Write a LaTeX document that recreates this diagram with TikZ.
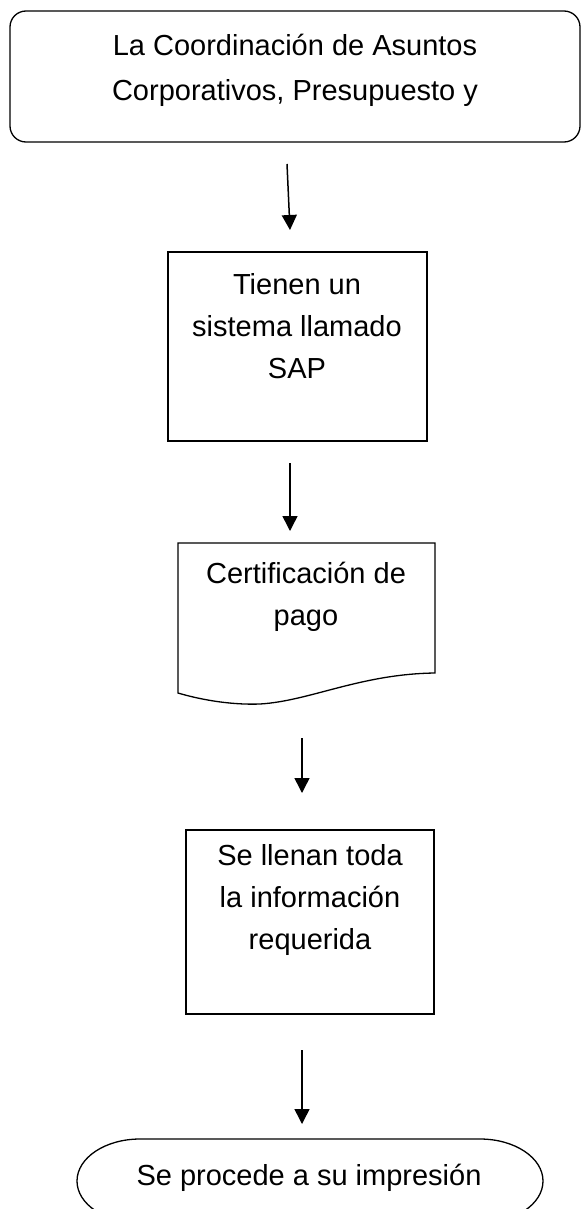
\documentclass[tikz,border=0pt]{standalone}
\usepackage{fontspec}
\setmainfont{Liberation Sans}
\usetikzlibrary{arrows.meta}
\begin{document}
\begin{tikzpicture}[x=1pt,y=-1pt,
  shapeline/.style={draw=black,line width=1.3pt},
  boxtext/.style={align=center,inner sep=0pt,font=\fontsize{29}{42}\selectfont},
  toptextstyle/.style={align=center,inner sep=0pt,font=\fontsize{29}{45}\selectfont},
  flowarrow/.style={line width=1.5pt,-{Triangle[length=15pt,width=15pt]}}]
\useasboundingbox (0,0) rectangle (582,1209);
% top rounded box
\draw[shapeline,rounded corners=16pt] (10,11) rectangle (580,142);
\node[toptextstyle] (toptext) at (295,70) {La Coordinación de Asuntos\\Corporativos, Presupuesto y};
% box 2
\draw[shapeline] (168,252) rectangle (427,441);
\node[boxtext] (sap) at (297,326) {Tienen un\\sistema llamado\\SAP};
% document shape
\draw[shapeline] (178,543) -- (435,543) -- (435,673)
  .. controls (360,674) and (310,701) .. (260,704)
  .. controls (235,705) and (205,701) .. (178,693) -- cycle;
\node[boxtext] (cert) at (306,597) {Certificación de\\pago};
% box 4
\draw[shapeline] (186,830) rectangle (434,1014);
\node[boxtext] (llenan) at (310,900) {Se llenan toda\\la información\\requerida};
% terminator
\draw[shapeline] (140,1139) -- (480,1139) arc[start angle=-90,end angle=90,x radius=63,y radius=42]
  -- (140,1223) arc[start angle=90,end angle=270,x radius=63,y radius=42] -- cycle;
\node[boxtext] (imp) at (309,1178) {Se procede a su impresión};
% arrows
\coordinate (a1s) at (287,164); \coordinate (a1e) at (290,230);
\coordinate (a2s) at (290,463); \coordinate (a2e) at (290,531);
\coordinate (a3s) at (302,738); \coordinate (a3e) at (302,793);
\coordinate (a4s) at (302,1050); \coordinate (a4e) at (302,1124);
\draw[flowarrow] (a1s) -- (a1e);
\draw[flowarrow] (a2s) -- (a2e);
\draw[flowarrow] (a3s) -- (a3e);
\draw[flowarrow] (a4s) -- (a4e);
\end{tikzpicture}
\end{document}
